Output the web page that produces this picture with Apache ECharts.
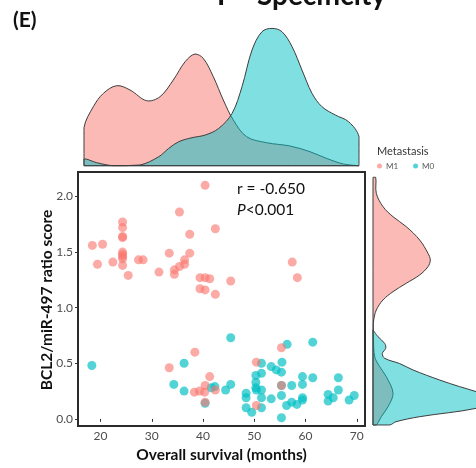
<!DOCTYPE html>
<html>
<head>
<meta charset="utf-8">
<script src="https://cdn.jsdelivr.net/npm/echarts@6/dist/echarts.min.js"></script>
<style>
  html, body { margin: 0; padding: 0; background: #fff; }
  #chart { width: 476px; height: 468px; }
</style>
</head>
<body>
<div id="chart"></div>
<script>
// Overall survival (months) against BCL2/miR-497 ratio score, split by metastasis status
const survivalM1 = [40.4, 35.4, 42.4, 24.3, 24.3, 24.3, 24.3, 37.4, 18.4, 20.4, 24.3, 24.3, 24.3, 24.3, 24.3,
  19.4, 22.4, 27.4, 28.3, 33.4, 37.4, 36.4, 36.4, 35.4, 34.4, 34.4, 25.4, 31.4, 39.4, 40.4, 41.3, 45.4,
  39.4, 40.4, 42.4, 57.4, 58.4,
  33.4, 38.4, 41.3, 38.3, 39.3, 40.4, 40.3, 40.4, 42.4, 50.4, 50.4, 55.3, 55.3];
const ratioM1 = [2.10, 1.86, 1.71, 1.77, 1.72, 1.64, 1.63, 1.66, 1.56, 1.57, 1.50, 1.48, 1.46, 1.44, 1.38,
  1.39, 1.41, 1.43, 1.43, 1.49, 1.49, 1.43, 1.39, 1.37, 1.34, 1.30, 1.29, 1.32, 1.27, 1.27, 1.26, 1.24,
  1.17, 1.16, 1.12, 1.41, 1.27,
  0.46, 0.60, 0.38, 0.24, 0.25, 0.30, 0.24, 0.15, 0.26, 0.51, 0.12, 0.64, 0.30];

const survivalM0 = [18.3, 36.3, 34.3, 36.3, 40.4, 41.6, 42.3, 44.4, 45.4, 45.4, 48.4, 48.4, 48.4, 49.5,
  50.3, 50.3, 50.3, 50.4, 51.4, 51.4, 51.4, 51.4, 51.4, 53.3, 54.3, 55.3, 55.4, 53.3, 55.3, 55.3, 55.3,
  56.4, 56.3, 57.3, 57.3, 58.3, 59.4, 59.4, 59.4, 59.4, 61.4, 61.4, 64.4, 64.4, 65.4, 66.4, 66.4, 68.5, 69.5];
const ratioM0 = [0.48, 0.50, 0.31, 0.25, 0.14, 0.28, 0.29, 0.26, 0.31, 0.73, 0.23, 0.19, 0.10, 0.06,
  0.39, 0.33, 0.28, 0.26, 0.50, 0.41, 0.26, 0.19, 0.10, 0.47, 0.44, 0.42, 0.51, 0.18, 0.30, 0.21, 0.01,
  0.67, 0.12, 0.30, 0.15, 0.13, 0.38, 0.31, 0.19, 0.17, 0.69, 0.37, 0.22, 0.16, 0.19, 0.37, 0.26, 0.17, 0.21];

// Marginal density of survival (top panel), relative height
const topMonthsM1 = [16.77, 16.77, 18.59, 20.54, 23.15, 25.75, 29.0, 31.6, 34.2, 36.5, 38.43, 40.05, 42.0,
  43.95, 45.9, 48.5, 52.4, 56.97, 60.87, 64.1, 67.4, 70.43];
const topDensityM1 = [0, 38, 59, 72.3, 80, 75.7, 65, 69, 85.7, 104, 111.7, 107.3, 89,
  65.7, 45.7, 29, 23, 19.7, 14, 7.3, 1.7, 0];
const topMonthsM0 = [16.77, 16.77, 19.25, 22.49, 27.7, 31.36, 33.3, 35.26, 37.85, 40.45, 43.06, 45.66, 47.6,
  49.56, 51.5, 53.46, 55.4, 57.37, 59.3, 61.27, 63.2, 65.8, 68.4, 70.43, 70.43];
const topDensityM0 = [0, 6.7, 3, 0, 0.7, 9, 17.3, 24, 28, 30.7, 37.3, 52.3, 79,
  115.7, 134, 137.3, 134, 119, 95.7, 72.3, 59, 50.7, 44, 29, 0];

// Marginal density of ratio score (right panel), relative width
const rightRatioM1 = [2.173, 2.173, 2.03, 1.911, 1.821, 1.732, 1.613, 1.494, 1.435, 1.375, 1.301, 1.227, 1.152,
  1.078, 0.988, 0.899, 0.839, 0.72, 0.571, 0.482, 0.393, 0.245, 0.125, 0.036, -0.038, -0.038];
const rightDensityM1 = [0, 2.7, 3.3, 10, 20, 33.3, 46.7, 55, 57.3, 55, 46.7, 33.3, 20,
  10, 3.3, 0.7, 0.3, 0.5, 1.7, 6.7, 13.3, 20, 15, 8.3, 3.3, 0];
const rightRatioM0 = [0.81, 0.75, 0.69, 0.646, 0.60, 0.557, 0.51, 0.453, 0.363, 0.304, 0.259, 0.185, 0.111,
  0.036, -0.009, -0.038, -0.038];
const rightDensityM0 = [0, 5, 11.7, 12.7, 9.3, 11.7, 26.7, 40, 66.7, 86.7, 103.3, 125, 103.3,
  46.7, 23, 16.7, 0];

const xTicks = [20, 30, 40, 50, 60, 70];
const yTicks = [0, 0.5, 1, 1.5, 2];

const PINK = '#F8766D';
const TEAL = '#00BFC4';
const FONT = 'Lato, "Open Sans", sans-serif';
const X_RANGE = [15.6, 71.6];
const Y_RANGE = [-0.065, 2.22];

const zip = (a, b) => a.map((v, i) => [v, b[i]]);

// Closed, smoothed outline of a density curve drawn through the axis scales
function densitySeries(name, points, fill, axisIndex) {
  return {
    type: 'custom',
    name: name,
    xAxisIndex: axisIndex,
    yAxisIndex: axisIndex,
    silent: true,
    data: points,
    renderItem: function (params, api) {
      if (params.dataIndex !== 0) return null;
      const px = points.map(p => api.coord(p));
      const xs = px.map(p => p[0]);
      const ys = px.map(p => p[1]);
      return {
        type: 'polygon',
        shape: {
          points: px,
          smooth: 0.35,
          smoothConstraint: [[Math.min(...xs), Math.min(...ys)], [Math.max(...xs), Math.max(...ys)]]
        },
        style: { fill: fill, stroke: '#3d3d3d', lineWidth: 1 }
      };
    }
  };
}

const hiddenAxis = (idx, extra) => Object.assign({
  gridIndex: idx, type: 'value', show: false, splitLine: { show: false }
}, extra);

const chart = echarts.init(document.getElementById('chart'), null, { renderer: 'canvas' });

chart.setOption({
  animation: false,
  backgroundColor: '#fff',
  textStyle: { fontFamily: FONT },
  grid: [
    { left: 78, right: 111, top: 172, bottom: 40, show: true, borderColor: '#2b2b2b', borderWidth: 2 },
    { left: 78, right: 111, top: 20, bottom: 302.3 },
    { left: 373, right: 0, top: 172, bottom: 40 }
  ],
  xAxis: [
    {
      gridIndex: 0, type: 'value', min: X_RANGE[0], max: X_RANGE[1],
      name: 'Overall survival (months)', nameLocation: 'middle', nameGap: 19,
      nameTextStyle: { fontFamily: FONT, fontWeight: 'bold', fontSize: 15.5, color: '#111' },
      axisLine: { show: false },
      axisTick: { show: true, length: 3, customValues: xTicks, lineStyle: { color: '#333' } },
      axisLabel: { customValues: xTicks, margin: 4, fontSize: 12, color: '#4d4d4d', fontFamily: FONT },
      splitLine: { show: false }
    },
    hiddenAxis(1, { min: X_RANGE[0], max: X_RANGE[1] }),
    hiddenAxis(2, { min: 0, max: 103 })
  ],
  yAxis: [
    {
      gridIndex: 0, type: 'value', min: Y_RANGE[0], max: Y_RANGE[1],
      axisLine: { show: false },
      axisTick: { show: true, length: 3, customValues: yTicks, lineStyle: { color: '#333' } },
      axisLabel: {
        customValues: yTicks, margin: 5, fontSize: 12, color: '#4d4d4d', fontFamily: FONT,
        formatter: v => v.toFixed(1)
      },
      splitLine: { show: false }
    },
    hiddenAxis(1, { min: 0, max: 145.7 }),
    hiddenAxis(2, { min: Y_RANGE[0], max: Y_RANGE[1] })
  ],
  legend: {
    data: ['M1', 'M0'],
    left: 377, top: 162,
    icon: 'circle', itemWidth: 5, itemHeight: 5, itemGap: 15,
    padding: 0,
    textStyle: { fontSize: 8, color: '#555', fontFamily: FONT, padding: [0, 0, 0, -1] }
  },
  series: [
    densitySeries('M1 survival density', zip(topMonthsM1, topDensityM1), 'rgba(248,118,109,0.5)', 1),
    densitySeries('M0 survival density', zip(topMonthsM0, topDensityM0), 'rgba(0,191,196,0.5)', 1),
    densitySeries('M1 ratio density', zip(rightDensityM1, rightRatioM1), 'rgba(248,118,109,0.5)', 2),
    densitySeries('M0 ratio density', zip(rightDensityM0, rightRatioM0), 'rgba(0,191,196,0.5)', 2),
    {
      type: 'scatter', name: 'M0', xAxisIndex: 0, yAxisIndex: 0,
      data: zip(survivalM0, ratioM0), symbolSize: 9,
      itemStyle: { color: TEAL, opacity: 0.68 }
    },
    {
      type: 'scatter', name: 'M1', xAxisIndex: 0, yAxisIndex: 0,
      data: zip(survivalM1, ratioM1), symbolSize: 9,
      itemStyle: { color: PINK, opacity: 0.62 }
    }
  ],
  graphic: [
    { type: 'text', x: 217, y: -4, style: { text: 'F - Specificity', font: 'bold 28px ' + FONT, fill: '#111', verticalAlign: 'middle' } },
    { type: 'text', x: 13, y: 20, style: { text: '(E)', font: 'bold 21px ' + FONT, fill: '#111', verticalAlign: 'middle' } },
    {
      type: 'text', x: 47, y: 300, rotation: Math.PI / 2,
      style: { text: 'BCL2/miR-497 ratio score', font: 'bold 15.5px ' + FONT, fill: '#111', align: 'center', verticalAlign: 'middle' }
    },
    { type: 'text', x: 377, y: 151, style: { text: 'Metastasis', font: '11px ' + FONT, fill: '#333', verticalAlign: 'middle' } },
    { type: 'text', x: 237, y: 189, style: { text: 'r = -0.650', font: '15.5px ' + FONT, fill: '#111', verticalAlign: 'middle' } },
    {
      type: 'text', x: 237, y: 210,
      style: {
        text: '{i|P}<0.001', font: '15.5px ' + FONT, fill: '#111', verticalAlign: 'middle',
        rich: { i: { fontStyle: 'italic', fontSize: 15.5, fontFamily: FONT, fill: '#111' } }
      }
    }
  ]
});
</script>
</body>
</html>
